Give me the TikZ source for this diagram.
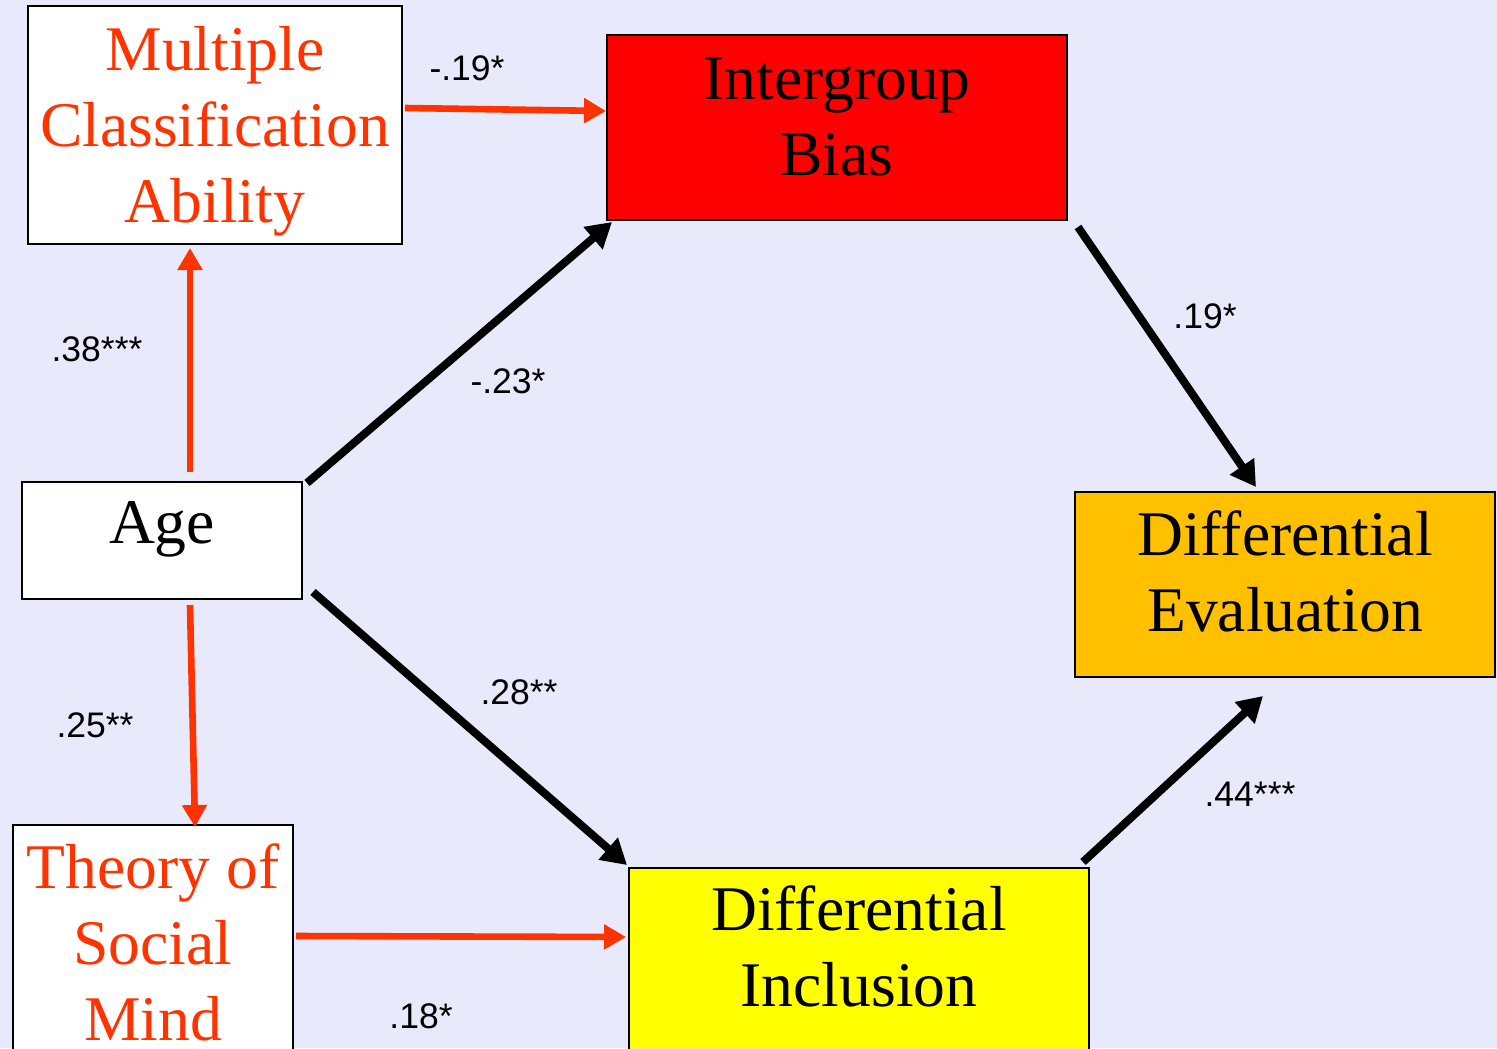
\documentclass[tikz,border=0pt]{standalone}
\usepackage{fontspec}
\setmainfont{Liberation Serif}
\newfontfamily\labfont{Liberation Sans}
\usetikzlibrary{arrows.meta,calc}
\definecolor{bgc}{RGB}{232,234,252}
\definecolor{redor}{RGB}{255,51,0}
\definecolor{ibred}{RGB}{255,0,0}
\definecolor{deor}{RGB}{255,192,0}
\definecolor{diyel}{RGB}{255,255,0}
\begin{document}
\begin{tikzpicture}[x=0.5pt,y=-0.5pt,
  box/.style={draw=black,line width=1pt,rectangle,inner sep=0pt},
  btext/.style={align=center,inner sep=0pt,font=\fontsize{31.8}{38}\selectfont},
  lab/.style={anchor=base,inner sep=0pt,font=\labfont\fontsize{17.75}{20}\selectfont},
  redarr/.style={draw=redor,line width=3.3pt,-{Triangle[length=11pt,width=12pt]}},
  blkarr/.style={draw=black,line width=4pt,-{Triangle[length=12.5pt,width=14pt]}}]
\useasboundingbox (0,0) rectangle (1497,1048);
\clip (0,0) rectangle (1497,1048);
\fill[bgc] (0,0) rectangle (1497,1048);
% boxes
\node[box,fill=white,minimum width=187pt,minimum height=119pt] (mca) at (215,125) {};
\node[box,fill=ibred,minimum width=230pt,minimum height=92.5pt] (ib) at (837,127.5) {};
\node[box,fill=white,minimum width=140pt,minimum height=58.5pt] (age) at (162,540.5) {};
\node[box,fill=deor,minimum width=210pt,minimum height=92.5pt] (de) at (1285,584.5) {};
\node[box,fill=white,minimum width=140pt,minimum height=117.5pt] (tsm) at (153,942.5) {};
\node[box,fill=diyel,minimum width=230pt,minimum height=96pt] (di) at (859,964) {};
% texts
\node[btext,text=redor] (mcat) at (215,131) {Multiple\\Classification\\Ability};
\node[btext] (ibt) at (837,116.5) {Intergroup\\Bias};
\node[btext] (aget) at (162,529) {Age};
\node[btext] (det) at (1285,571) {Differential\\Evaluation};
\node[btext,text=redor] (tsmt) at (153,942) {Theory of\\Social\\Mind};
\node[btext] (dit) at (859,946) {Differential\\Inclusion};
% arrows
\draw[redarr] ($(mca.east)+(2,-17)$) -- ($(ib.west)+(0,-16.5)$);
\draw[redarr] ($(age.north)+(28,-9)$) -- ($(mca.south)+(-25,3)$);
\draw[blkarr] ($(age.north east)+(4,2)$) -- ($(ib.south west)+(6,1)$);
\draw[blkarr] ($(ib.south east)+(10,6)$) -- ($(de.north)+(-29,-4)$);
\draw[blkarr] ($(age.south east)+(10,-8)$) -- ($(di.north west)+(-1,-2)$);
\draw[redarr] ($(age.south)+(28,5)$) -- ($(tsm.north)+(42,3)$);
\draw[redarr] ($(tsm.north east)+(2,112)$) -- ($(di.north west)+(-2,70)$);
\draw[blkarr] ($(di.north east)+(-7,-5)$) -- ($(de.south)+(-22,18)$);
% labels
\node[lab] (l1) at (467,81) {-.19*};
\node[lab] (l2) at (97,361) {.38***};
\node[lab] (l3) at (508,393) {-.23*};
\node[lab] (l4) at (1205,328) {.19*};
\node[lab] (l5) at (519,704) {.28**};
\node[lab] (l6) at (95,737) {.25**};
\node[lab] (l7) at (1250,806) {.44***};
\node[lab] (l8) at (421,1028) {.18*};
\end{tikzpicture}
\end{document}
